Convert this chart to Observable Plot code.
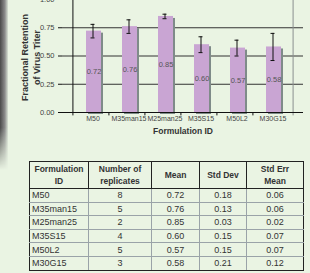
<!DOCTYPE html>
<html><head><meta charset="utf-8">
<script src="https://cdn.jsdelivr.net/npm/d3@7"></script>
<script src="https://cdn.jsdelivr.net/npm/@observablehq/plot@0.6"></script>
<style>
html,body{margin:0;padding:0;}
body{width:310px;height:273px;background:#eaf4e3;position:relative;overflow:hidden;font-family:"Liberation Sans",Arial,sans-serif;}
#strip{position:absolute;left:0;top:0;width:8px;height:170px;background:linear-gradient(to right,#4a4a4a,#8a8a8a 60%,#d8e2d4);
  -webkit-mask-image:linear-gradient(to bottom,#000 75%,transparent);mask-image:linear-gradient(to bottom,#000 75%,transparent);}
#chart{position:absolute;left:0;top:0;}
table{position:absolute;left:29px;top:161px;width:274px;border-collapse:collapse;color:#333;table-layout:fixed;}
th,td{padding:0 2px;text-align:center;overflow:hidden;white-space:nowrap;}
th{border:1px solid #222;height:26px;font-weight:bold;font-size:8.5px;line-height:12px;}
td{border:1px solid #9aa3a8;height:12.6px;font-size:9px;line-height:12px;padding-top:0;padding-bottom:0;}
td:first-child{text-align:left;}
tr:last-child td{border-bottom:1px solid #222;}
td:first-child{border-left:1px solid #222;}
td:last-child{border-right:1px solid #222;}
</style></head>
<body>
<div id="strip"></div>
<div id="chart"></div>
<table id="tbl">
<colgroup><col style="width:59px"><col style="width:63px"><col style="width:48px"><col style="width:47px"><col style="width:57px"></colgroup>
<thead><tr id="hdr"></tr></thead><tbody id="tb"></tbody></table>
<script>
const ids = ["M50","M35man15","M25man25","M35S15","M50L2","M30G15"];
const reps = [8,5,2,4,5,3];
const means = [0.72,0.76,0.85,0.60,0.57,0.58];
const sds = [0.18,0.13,0.03,0.15,0.15,0.21];
const sems = [0.06,0.06,0.02,0.07,0.07,0.12];
const yTicks = [0,0.25,0.5,0.75,1];
const gridVals = [0.25,0.5,0.75];
const headers = ["Formulation<br>ID","Number of<br>replicates","Mean","Std Dev","Std Err<br>Mean"];

const data = ids.map((id,i)=>({id, n:reps[i], mean:means[i], sd:sds[i], se:sems[i]}));
const half = (310-62-7)/ids.length/2;

const chart = Plot.plot({
  width:310, height:140,
  marginLeft:62, marginRight:7, marginTop:0, marginBottom:28,
  style:{background:"transparent", fontFamily:"Liberation Sans, Arial, sans-serif", color:"#444", overflow:"hidden"},
  x:{domain:ids, padding:0.58, label:null},
  y:{domain:[0,1], range:[112,-1], label:null},
  marks:[
    Plot.ruleY(gridVals,{stroke:"#333", strokeWidth:1}),
    Plot.ruleX([ids[ids.length-1]],{dx:half, y1:-0.03, y2:1.01, stroke:"#8a9090"}),
    Plot.barY(data,{x:"id", y:"mean", fill:"#7f8b89", dx:3, dy:2}),
    Plot.barY(data,{x:"id", y:"mean", fill:"#c9a5d3", dx:1}),
    Plot.ruleX(data,{x:"id", y1:d=>d.mean-d.se, y2:d=>d.mean+d.se, stroke:"#111", strokeWidth:1}),
    Plot.tickY(data,{x:"id", y:d=>d.mean+d.se, stroke:"#111", insetLeft:5.5, insetRight:5.5}),
    Plot.tickY(data,{x:"id", y:d=>d.mean-d.se, stroke:"#111", insetLeft:5.5, insetRight:5.5}),
    Plot.text(data,{x:"id", y:d=>d.mean/2, text:d=>d.mean.toFixed(2), dx:1, fontSize:7.5, fill:"#555"}),
    Plot.ruleY([0],{stroke:"#111"}),
    Plot.ruleX([ids[0]],{dx:-half, y1:0, y2:1.01, stroke:"#111"}),
    Plot.ruleX(ids,{x:d=>d, dx:-half, y1:0, y2:-0.03, stroke:"#111"}),
    Plot.axisY(yTicks,{tickSize:4, tickPadding:4, tickFormat:".2f", fontSize:7.5, fill:"#444", stroke:"#111"}),
    Plot.axisX({tickSize:0, tickPadding:4, fontSize:7, fill:"#444"}),
    Plot.text(["Formulation ID"],{frameAnchor:"bottom", dy:21, fontSize:8.5, fontWeight:"bold", fill:"#333"}),
    Plot.text(["Fractional Retention\nof Virus Titer"],{frameAnchor:"left", dx:-32, dy:1, rotate:-90, textAnchor:"middle", lineAnchor:"middle", lineHeight:1.3, fontSize:9, fontWeight:"bold", fill:"#333"})
  ]
});
document.getElementById("chart").appendChild(chart);

document.getElementById("hdr").innerHTML = headers.map(h=>`<th>${h}</th>`).join("");
document.getElementById("tb").innerHTML = data.map(d=>`<tr><td>${d.id}</td><td>${d.n}</td><td>${d.mean.toFixed(2)}</td><td>${d.sd.toFixed(2)}</td><td>${d.se.toFixed(2)}</td></tr>`).join("");
</script>
</body></html>
